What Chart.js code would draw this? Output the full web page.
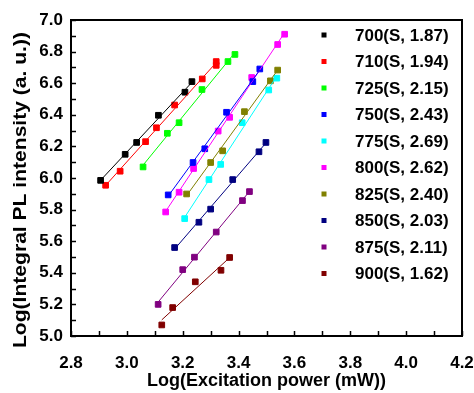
<!DOCTYPE html>
<html>
<head>
<meta charset="utf-8">
<script src="https://cdn.jsdelivr.net/npm/chart.js@4.4.1/dist/chart.umd.min.js"></script>
<style>
  html, body { margin: 0; padding: 0; background: #fff; }
  #wrap { width: 474px; height: 393px; }
</style>
</head>
<body>
<div id="wrap"><canvas id="plot" width="474" height="393"></canvas></div>
<script>
// legend labels and colours
const labels = ["700(S, 1.87)", "710(S, 1.94)", "725(S, 2.15)", "750(S, 2.43)", "775(S, 2.69)",
                "800(S, 2.62)", "825(S, 2.40)", "850(S, 2.03)", "875(S, 2.11)", "900(S, 1.62)"];
const colors = ["#000000", "#ff0000", "#00ff00", "#0000ff", "#00ffff",
                "#ff00ff", "#808000", "#000080", "#800080", "#800000"];

// log(excitation power) / log(integral PL intensity)
const x700 = [2.906, 2.994, 3.035, 3.113, 3.208, 3.233];
const y700 = [5.985, 6.150, 6.225, 6.397, 6.543, 6.610];
const x710 = [2.924, 2.976, 3.067, 3.106, 3.171, 3.270, 3.320, 3.320];
const y710 = [5.954, 6.043, 6.230, 6.318, 6.462, 6.627, 6.713, 6.737];
const x725 = [3.058, 3.145, 3.187, 3.269, 3.362, 3.387];
const y725 = [6.070, 6.283, 6.350, 6.560, 6.737, 6.782];
const x750 = [3.148, 3.237, 3.279, 3.357, 3.451, 3.476];
const y750 = [5.893, 6.098, 6.185, 6.416, 6.610, 6.690];
const x775 = [3.207, 3.294, 3.336, 3.413, 3.508, 3.537];
const y775 = [5.743, 5.990, 6.086, 6.350, 6.557, 6.632];
const x800 = [3.139, 3.187, 3.239, 3.327, 3.368, 3.447, 3.540, 3.565];
const y800 = [5.785, 5.910, 6.060, 6.297, 6.384, 6.636, 6.845, 6.910];
const x825 = [3.214, 3.300, 3.343, 3.421, 3.514, 3.540];
const y825 = [5.899, 6.098, 6.172, 6.420, 6.615, 6.683];
const x850 = [3.171, 3.258, 3.300, 3.379, 3.473, 3.498];
const y850 = [5.560, 5.720, 5.803, 5.990, 6.166, 6.225];
const x875 = [3.112, 3.200, 3.242, 3.320, 3.414, 3.439];
const y875 = [5.200, 5.420, 5.499, 5.658, 5.857, 5.914];
const x900 = [3.125, 3.164, 3.245, 3.337, 3.368];
const y900 = [5.070, 5.180, 5.343, 5.416, 5.497];

const xs = [x700, x710, x725, x750, x775, x800, x825, x850, x875, x900];
const ys = [y700, y710, y725, y750, y775, y800, y825, y850, y875, y900];

// axis ranges and titles
const xMin = 2.8, xMax = 4.2;
const yMin = 5.0, yMax = 7.0;
const xTitle = "Log(Excitation power (mW))";
const yTitle = "Log(Integral PL intensity (a. u.))";

const FONT = "'Liberation Sans', Arial, sans-serif";

// least squares line through each set, drawn between first and last x
function fitLine(x, y) {
  const n = x.length;
  const mx = x.reduce((a, b) => a + b, 0) / n;
  const my = y.reduce((a, b) => a + b, 0) / n;
  let sxy = 0, sxx = 0;
  for (let i = 0; i < n; i++) {
    sxy += (x[i] - mx) * (y[i] - my);
    sxx += (x[i] - mx) * (x[i] - mx);
  }
  const k = sxy / sxx;
  const x0 = Math.min(...x), x1 = Math.max(...x);
  return [{ x: x0, y: my + k * (x0 - mx) }, { x: x1, y: my + k * (x1 - mx) }];
}

const datasets = [];
labels.forEach((lab, i) => {
  datasets.push({
    label: lab + " fit",
    isFit: true,
    data: fitLine(xs[i], ys[i]),
    showLine: true,
    borderColor: colors[i],
    borderWidth: 1,
    pointRadius: 0
  });
});
labels.forEach((lab, i) => {
  datasets.push({
    label: lab,
    data: xs[i].map((v, j) => ({ x: v, y: ys[i][j] })),
    showLine: false,
    pointStyle: "rect",
    pointRadius: 4,
    borderWidth: 1,
    borderColor: colors[i],
    backgroundColor: colors[i]
  });
});

// frame, inward ticks, y title and the in-plot legend
const framePlugin = {
  id: "frame",
  afterDraw(chart) {
    const { ctx, chartArea: a, scales } = chart;
    ctx.save();
    ctx.strokeStyle = "#000";
    ctx.lineWidth = 1.5;
    for (let v = xMin; v <= xMax + 1e-9; v += 0.1) {
      const px = Math.round(scales.x.getPixelForValue(v)) + 0.5;
      ctx.beginPath();
      ctx.moveTo(px, a.bottom);
      ctx.lineTo(px, a.bottom - 5);
      ctx.stroke();
    }
    for (let v = yMin; v <= yMax + 1e-9; v += 0.1) {
      const py = Math.round(scales.y.getPixelForValue(v)) + 0.5;
      ctx.beginPath();
      ctx.moveTo(a.left, py);
      ctx.lineTo(a.left + 5, py);
      ctx.stroke();
    }
    ctx.lineWidth = 2;
    ctx.strokeRect(a.left, a.top, a.right - a.left, a.bottom - a.top);

    // y title, a little stretched along its length as in the source figure
    ctx.save();
    ctx.font = "bold 18px " + FONT;
    ctx.fillStyle = "#000";
    ctx.textAlign = "center";
    ctx.textBaseline = "middle";
    const w = ctx.measureText(yTitle).width;
    ctx.translate(21, a.top + 170);
    ctx.rotate(-Math.PI / 2);
    ctx.scale(316 / w, 1);
    ctx.fillText(yTitle, 0, 0);
    ctx.restore();

    ctx.font = "bold 17px " + FONT;
    ctx.textBaseline = "middle";
    ctx.textAlign = "left";
    const items = chart.data.datasets.filter(d => !d.isFit);
    items.forEach((d, i) => {
      const cy = a.top + 15 + i * 26.5;
      const mx = a.right - 138;
      ctx.fillStyle = d.backgroundColor;
      ctx.fillRect(mx - 2.5, cy - 2.5, 5, 5);
      ctx.fillStyle = "#000";
      ctx.fillText(d.label, a.right - 107, cy + 1);
    });
    ctx.restore();
  }
};

Chart.defaults.font.family = FONT;
Chart.defaults.color = "#000";

new Chart(document.getElementById("plot"), {
  type: "scatter",
  data: { datasets: datasets },
  options: {
    responsive: false,
    animation: false,
    layout: { padding: { top: 20, right: 12, left: 0, bottom: 0 } },
    plugins: { legend: { display: false }, tooltip: { enabled: false } },
    scales: {
      x: {
        type: "linear",
        min: xMin, max: xMax,
        ticks: { stepSize: 0.2, padding: 17, font: { size: 17, weight: "bold" }, callback: v => v.toFixed(1) },
        grid: { display: false, drawTicks: false },
        border: { display: false },
        title: { display: true, text: xTitle, font: { size: 18, weight: "bold" }, padding: { top: 0, bottom: 1 } },
        afterFit(scale) {
          scale.height = 57;
          // the end labels may hang over the plot edge; keep the plot width fixed
          scale.paddingLeft = 0;
          scale.paddingRight = 0;
        }
      },
      y: {
        type: "linear",
        min: yMin, max: yMax,
        ticks: { stepSize: 0.2, padding: 8, font: { size: 17, weight: "bold" }, callback: v => v.toFixed(1) },
        grid: { display: false, drawTicks: false },
        border: { display: false },
        afterFit(scale) { scale.width = 71; }
      }
    }
  },
  plugins: [framePlugin]
});
</script>
</body>
</html>
